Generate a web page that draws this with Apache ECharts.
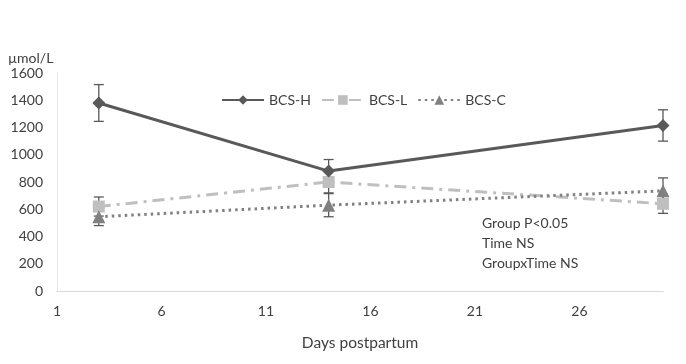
<!DOCTYPE html>
<html>
<head>
<meta charset="utf-8">
<script src="https://cdn.jsdelivr.net/npm/echarts@6/dist/echarts.min.js"></script>
<style>
  html, body { margin: 0; padding: 0; background: #fff; }
  #chart { width: 686px; height: 364px; }
</style>
</head>
<body>
<div id="chart"></div>
<script>
// days postpartum for each sampling point
const days = [3, 14, 30];
const seriesNames = ["BCS-H", "BCS-L", "BCS-C"];
const bcsH = [1380, 880, 1215];
const bcsHErr = [135, 85, 115];
const bcsL = [620, 800, 640];
const bcsLErr = [70, 80, 70];
const bcsC = [545, 630, 735];
const bcsCErr = [65, 85, 95];
const xTicks = [1, 6, 11, 16, 21, 26];
const yTicks = [0, 200, 400, 600, 800, 1000, 1200, 1400, 1600];
const noteLines = ["Group P<0.05", "Time NS", "GroupxTime NS"];

const font = "Lato, 'Open Sans', sans-serif";

function pairs(vals) {
  return days.map((d, i) => [d, vals[i]]);
}
function errData(vals, errs) {
  return days.map((d, i) => [d, vals[i] - errs[i], vals[i] + errs[i]]);
}

function renderErr(params, api) {
  const x = api.value(0);
  const lo = api.coord([x, api.value(1)]);
  const hi = api.coord([x, api.value(2)]);
  const w = 5;
  const style = { stroke: "#595959", lineWidth: 1.3 };
  return {
    type: "group",
    children: [
      { type: "line", shape: { x1: hi[0], y1: hi[1], x2: lo[0], y2: lo[1] }, style },
      { type: "line", shape: { x1: hi[0] - w, y1: hi[1], x2: hi[0] + w, y2: hi[1] }, style },
      { type: "line", shape: { x1: lo[0] - w, y1: lo[1], x2: lo[0] + w, y2: lo[1] }, style }
    ]
  };
}

const chart = echarts.init(document.getElementById("chart"));
chart.setOption({
  animation: false,
  textStyle: { fontFamily: font },
  grid: { left: 57, right: 23, top: 73, bottom: 73, containLabel: false },
  legend: {
    data: seriesNames,
    top: 88,
    left: 216,
    itemWidth: 42,
    itemHeight: 12,
    itemGap: 10,
    textStyle: { fontSize: 14, color: "#404040", fontFamily: font }
  },
  xAxis: {
    type: "value",
    min: 1,
    max: 30,
    interval: 5,
    name: "Days postpartum",
    nameLocation: "middle",
    nameGap: 44,
    nameTextStyle: { fontSize: 15.5, color: "#404040", fontFamily: font },
    axisLine: { show: true, lineStyle: { color: "#d9d9d9", width: 1 } },
    axisTick: { show: false },
    splitLine: { show: false },
    axisLabel: {
      fontSize: 14, color: "#404040", margin: 13,
      formatter: v => (xTicks.indexOf(v) >= 0 ? String(v) : "")
    }
  },
  yAxis: {
    type: "value",
    min: yTicks[0],
    max: yTicks[yTicks.length - 1],
    interval: 200,
    name: "µmol/L",
    nameLocation: "end",
    nameGap: 8,
    nameTextStyle: { fontSize: 14, color: "#404040", align: "left", padding: [0, 0, 0, -49], fontFamily: font },
    axisLine: { show: true, lineStyle: { color: "#e6e6e6", width: 1 } },
    axisTick: { show: false },
    splitLine: { show: false },
    axisLabel: { fontSize: 14, color: "#404040", margin: 14, formatter: v => String(v) }
  },
  series: [
    {
      name: "BCS-H", type: "line", data: pairs(bcsH),
      symbol: "diamond", symbolSize: 13,
      lineStyle: { color: "#595959", width: 3 },
      itemStyle: { color: "#595959" }, z: 4
    },
    {
      name: "BCS-L", type: "line", data: pairs(bcsL),
      symbol: "rect", symbolSize: 12,
      lineStyle: { color: "#bfbfbf", width: 3, type: [12, 6, 3, 6] },
      itemStyle: { color: "#bfbfbf" }, z: 3
    },
    {
      name: "BCS-C", type: "line", data: pairs(bcsC),
      symbol: "triangle", symbolSize: 13,
      lineStyle: { color: "#808080", width: 3, type: [2.5, 4] },
      itemStyle: { color: "#808080" }, z: 3
    },
    { type: "custom", renderItem: renderErr, data: errData(bcsH, bcsHErr), z: 2, silent: true },
    { type: "custom", renderItem: renderErr, data: errData(bcsL, bcsLErr), z: 2, silent: true },
    { type: "custom", renderItem: renderErr, data: errData(bcsC, bcsCErr), z: 2, silent: true }
  ],
  graphic: noteLines.map((t, i) => ({
    type: "text",
    left: 482,
    top: 216 + i * 20,
    style: { text: t, fontSize: 14, fill: "#404040", fontFamily: font }
  }))
});
</script>
</body>
</html>
